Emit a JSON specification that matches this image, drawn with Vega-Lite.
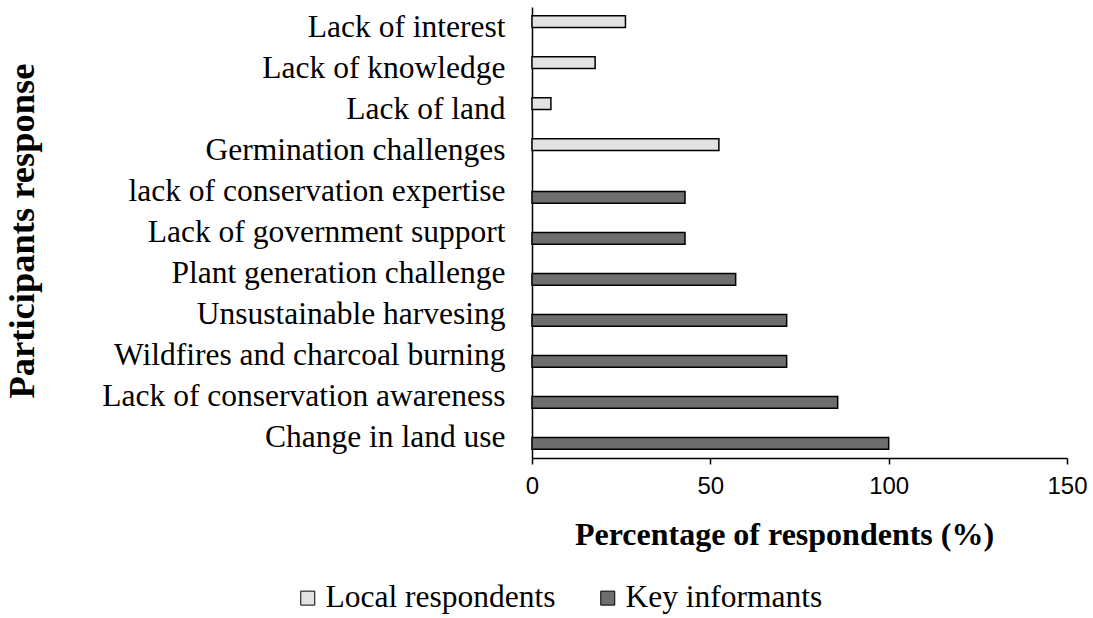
{
  "$schema": "https://vega.github.io/schema/vega-lite/v6.json",
  "autosize": "none",
  "width": 535,
  "height": 451,
  "padding": {"left": 532, "top": 7, "right": 26, "bottom": 160},
  "background": "white",
  "config": {"view": {"stroke": null}},
  "data": {
    "values": [
      {"response": "Lack of interest", "group": "Local respondents", "percent": 26.2},
      {"response": "Lack of knowledge\u00a0", "group": "Local respondents", "percent": 17.7},
      {"response": "Lack of land", "group": "Local respondents", "percent": 5.3},
      {"response": "Germination challenges", "group": "Local respondents", "percent": 52.4},
      {"response": "lack of conservation expertise", "group": "Key informants", "percent": 42.9},
      {"response": "Lack of government support", "group": "Key informants", "percent": 42.9},
      {"response": "Plant generation challenge\u00a0", "group": "Key informants", "percent": 57.1},
      {"response": "Unsustainable harvesing\u00a0", "group": "Key informants", "percent": 71.4},
      {"response": "Wildfires and charcoal burning", "group": "Key informants", "percent": 71.4},
      {"response": "Lack of conservation awareness", "group": "Key informants", "percent": 85.7},
      {"response": "Change in land use\u00a0", "group": "Key informants", "percent": 100}
    ]
  },
  "mark": {"type": "bar", "stroke": "black", "strokeWidth": 1.5},
  "encoding": {
    "y": {
      "field": "response",
      "type": "nominal",
      "sort": null,
      "scale": {"paddingInner": 0.427, "paddingOuter": 0.2135},
      "axis": {
        "title": "Participants response",
        "titleFont": "Liberation Serif",
        "titleFontSize": 36.5,
        "titleFontWeight": "bold",
        "titleColor": "black",
        "titleAngle": 270,
        "titleX": -499,
        "titleY": 223.5,
        "titleBaseline": "alphabetic",
        "titleAlign": "center",
        "ticks": false,
        "labelFont": "Liberation Serif",
        "labelFontSize": 31.5,
        "labelColor": "black",
        "labelPadding": 27,
        "labelLimit": 1000,
        "domainColor": "black",
        "domainWidth": 1.5,
        "grid": false
      }
    },
    "yOffset": {
      "field": "group",
      "type": "nominal",
      "sort": ["Local respondents", "Key informants"],
      "scale": {"domain": ["Local respondents", "Key informants"], "paddingInner": 0, "paddingOuter": 0}
    },
    "x": {
      "field": "percent",
      "type": "quantitative",
      "scale": {"domain": [0, 150], "nice": false},
      "axis": {
        "values": [0, 50, 100, 150],
        "grid": false,
        "tickColor": "black",
        "tickSize": 6,
        "tickWidth": 1.5,
        "domainColor": "black",
        "domainWidth": 1.5,
        "labelFont": "Liberation Sans",
        "labelFontSize": 24,
        "labelColor": "black",
        "labelPadding": 10,
        "labelFlush": false,
        "labelOverlap": false,
        "title": "Percentage of respondents (%)",
        "titleFont": "Liberation Serif",
        "titleFontSize": 32,
        "titleFontWeight": "bold",
        "titleColor": "black",
        "titleX": 252,
        "titleY": 86,
        "titleBaseline": "alphabetic",
        "titleAlign": "center"
      }
    },
    "color": {
      "field": "group",
      "type": "nominal",
      "scale": {"domain": ["Local respondents", "Key informants"], "range": ["#e2e2e2", "#6e6e6e"]},
      "legend": {
        "orient": "none",
        "legendX": -240,
        "legendY": 575,
        "padding": 0,
        "direction": "horizontal",
        "title": null,
        "symbolType": "square",
        "symbolSize": 196,
        "symbolStrokeColor": "black",
        "symbolStrokeWidth": 1,
        "symbolOpacity": 1,
        "labelFont": "Liberation Serif",
        "labelFontSize": 31.5,
        "labelColor": "black",
        "labelLimit": 1000,
        "labelOffset": 2,
        "columnPadding": 36
      }
    }
  }
}
